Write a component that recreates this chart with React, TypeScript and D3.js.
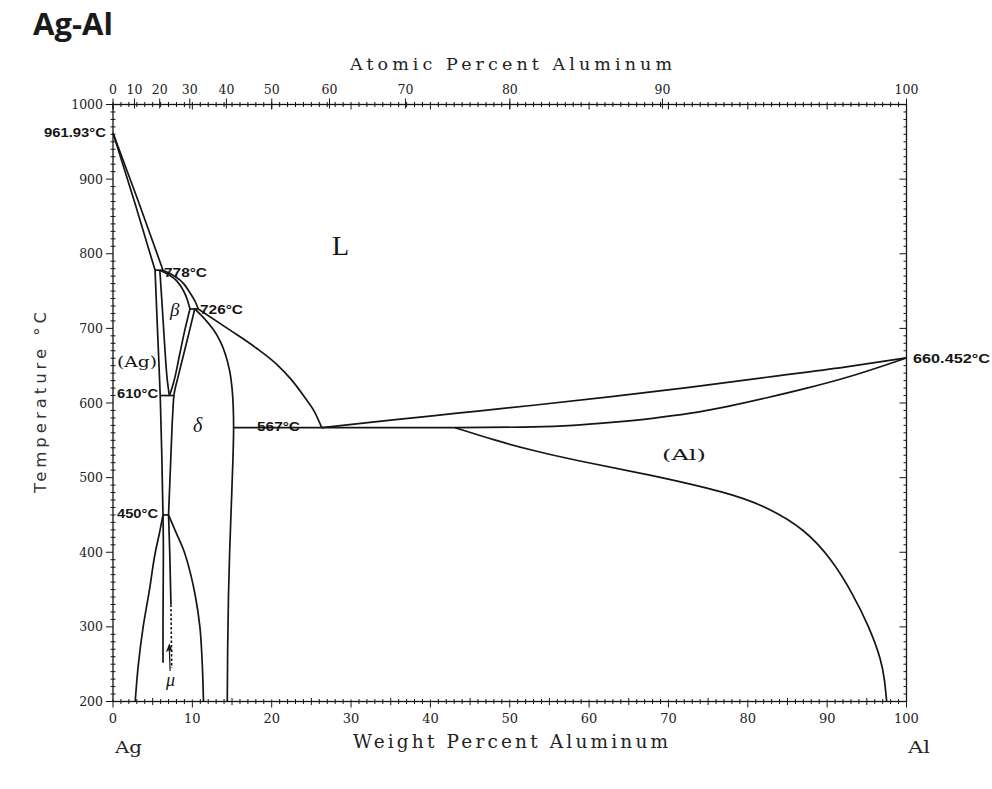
import React from "react";
import * as d3 from "d3";

type Pt = [number, number];

// Axis ticks
const tempTicks = d3.range(200, 1001, 100);
const tempMinor = d3.range(200, 1001, 10);
const weightTicks = d3.range(0, 101, 10);
const weightMinor = d3.range(0, 101, 1);
const atomicTicks = d3.range(0, 101, 10);

const M_AL = 26.9815;
const M_AG = 107.8682;

// Phase boundaries, [wt% Al, °C]
const agLiquidus: Pt[] = [[0, 961.93], [3.2, 870], [6.3, 778]];
const agSolidus: Pt[] = [[0, 961.93], [2.7, 870], [5.3, 778]];
const peritectic778: Pt[] = [[5.3, 778], [6.3, 778]];
const betaLiquidus: Pt[] = [[6.3, 778], [7.6, 771], [8.9, 760], [9.8, 746], [10.4, 735], [10.75, 726]];
const betaSolidus: Pt[] = [[5.9, 778], [7.0, 772], [8.0, 764], [8.8, 752], [9.35, 739], [9.7, 726]];
const peritectic726: Pt[] = [[9.7, 726], [10.75, 726]];
const agSolvusHigh: Pt[] = [[5.3, 778], [5.6, 700], [5.95, 610], [6.15, 530], [6.3, 450]];
const betaLeft: Pt[] = [[5.9, 778], [6.2, 730], [6.55, 671], [6.85, 630], [7.1, 610]];
const betaRight: Pt[] = [[9.7, 726], [9.1, 700], [8.4, 665], [7.7, 630], [7.25, 614], [7.1, 610]];
const deltaLeft: Pt[] = [[10.3, 726], [9.6, 695], [8.9, 665], [8.2, 635], [7.7, 612], [7.55, 590], [7.3, 530], [7.0, 450]];
const eutectoid610: Pt[] = [[5.95, 610], [7.6, 610]];
const peritectoid450: Pt[] = [[6.3, 450], [7.0, 450]];
const deltaRight: Pt[] = [
  [10.3, 726], [11.6, 712], [12.6, 699], [13.5, 683], [14.2, 664], [14.7, 643], [15.0, 620],
  [15.15, 595], [15.2, 567], [15.1, 520], [14.9, 460], [14.7, 400], [14.55, 340], [14.45, 270], [14.4, 200],
];
const deltaLiquidus: Pt[] = [
  [10.75, 726], [14.7, 698], [18, 674], [20.5, 653], [22.5, 631], [24.2, 607], [25.4, 588], [26.3, 567],
];
const eutectic567: Pt[] = [[15.2, 567], [43.1, 567]];
const alLiquidus: Pt[] = [
  [26.3, 567], [35, 577], [43.1, 586], [53, 597], [62.8, 608.5], [72.6, 621], [82.4, 634.5],
  [92.2, 648], [100, 660.452],
];
const alSolidus: Pt[] = [
  [43.1, 567], [53, 568], [58, 570], [62.8, 574], [68, 579.5], [72.6, 586], [77.5, 595.5],
  [82.4, 607], [87.3, 619.5], [92.2, 633.5], [97.1, 650], [100, 660.452],
];
const alSolvus: Pt[] = [
  [43.1, 567], [48.1, 550], [53, 536], [57.9, 524], [67.6, 504], [77.5, 480], [82.4, 461],
  [87.3, 430], [90.6, 390], [93.2, 345], [95.3, 300], [96.85, 255], [97.25, 228], [97.5, 200],
];
const agSolvusLow: Pt[] = [[6.3, 450], [5.9, 428], [5.3, 398], [4.6, 350], [3.8, 300], [3.2, 250], [2.8, 200]];
const muLeft: Pt[] = [[6.3, 450], [6.35, 400], [6.3, 300], [6.3, 252]];
const muRight: Pt[] = [[7.0, 450], [7.15, 400], [7.3, 330]];
const muRightDashed: Pt[] = [[7.3, 330], [7.4, 245]];
const deltaLow: Pt[] = [[7.0, 450], [7.8, 430], [8.9, 403], [9.8, 370], [10.4, 340], [10.95, 300], [11.25, 250], [11.4, 200]];
const muPointer: Pt[] = [[7.2, 241], [7.1, 278]];

// Curves that run mostly left-to-right
const flatCurves: Pt[][] = [
  peritectic778, betaLiquidus, betaSolidus, peritectic726, eutectoid610, peritectoid450,
  deltaLiquidus, eutectic567, alLiquidus, alSolidus,
];
// Curves that run mostly top-to-bottom
const steepCurves: Pt[][] = [
  agLiquidus, agSolidus, agSolvusHigh, betaLeft, betaRight, deltaLeft, deltaRight,
  agSolvusLow, muLeft, muRight, deltaLow,
];
// Curves that turn from flat to steep
const bentCurves: Pt[][] = [alSolvus];

// Invariant temperatures
const meltAg = 961.93;
const meltAl = 660.452;
const invariantLabels = ["961.93°C", "778°C", "726°C", "610°C", "567°C", "450°C", "660.452°C"];

const atomicToWeight = (a: number) => (100 * a * M_AL) / (a * M_AL + (100 - a) * M_AG);

const x = d3.scaleLinear().domain([0, 100]).range([113, 906.5]);
const y = d3.scaleLinear().domain([200, 1000]).range([701.5, 104.5]);
const makeLine = (curve: d3.CurveFactory) =>
  d3
    .line<Pt>()
    .x((d) => x(d[0]))
    .y((d) => y(d[1]))
    .curve(curve);
const lineX = makeLine(d3.curveMonotoneX);
const lineY = makeLine(d3.curveMonotoneY);
const lineBent = makeLine(d3.curveBasis);
const byX = (c: Pt[]) => [...c].sort((a, b) => a[0] - b[0]);
const byY = (c: Pt[]) => [...c].sort((a, b) => b[1] - a[1]);

const INK = "#151515";
const serif = "'DejaVu Serif', 'Liberation Serif', serif";
const tickFont = "'DejaVu Serif', serif";
const sans = "'Liberation Sans', Arial, sans-serif";

export default function App() {
  const x0 = x(0), x1 = x(100), yTop = y(1000), yBot = y(200);
  const tempLabel = (text: string, px: number, T: number, len: number) => (
    <text x={px} y={y(T) + 4} fontFamily={sans} fontWeight="bold" fontSize={12.5} textLength={len} lengthAdjust="spacingAndGlyphs" fill={INK}>
      {text}
    </text>
  );
  const ax = muPointer.map((d) => [x(d[0]), y(d[1])]);
  return (
    <svg width={992} height={789} style={{ position: "absolute", left: 0, top: 0, background: "#fff" }}>
      <rect width={992} height={789} fill="#fff" />
      {/* Title */}
      <text x={33} y={35} fontFamily="'Open Sans', 'Noto Sans', sans-serif" fontWeight="bold" fontSize={31} fill="#1a1a1a" textLength={80} lengthAdjust="spacingAndGlyphs">
        Ag-Al
      </text>

      {/* Frame */}
      <rect x={x0} y={yTop} width={x1 - x0} height={yBot - yTop} fill="none" stroke={INK} strokeWidth={1.3} />

      {/* Left & right temperature ticks */}
      {tempMinor.map((t) => {
        const major = t % 100 === 0;
        return (
          <g key={"t" + t} stroke={INK} strokeWidth={1}>
            <line x1={major ? x0 - 7 : x0 - 2.5} x2={major ? x0 : x0 + 2.5} y1={y(t)} y2={y(t)} />
            <line x1={major ? x1 - 7 : x1 - 3} x2={x1} y1={y(t)} y2={y(t)} />
          </g>
        );
      })}
      {tempTicks.map((t) => (
        <text key={"tl" + t} x={x0 - 10} y={y(t)} dy="0.36em" textAnchor="end" fontFamily={tickFont} fontSize={12.5} fill="#222">
          {t}
        </text>
      ))}

      {/* Bottom & top weight ticks */}
      {weightMinor.map((w) => {
        const major = w % 10 === 0;
        const mid = w % 5 === 0;
        return (
          <g key={"w" + w} stroke={INK} strokeWidth={1}>
            <line x1={x(w)} x2={x(w)} y1={major ? yBot - 2 : yBot - (mid ? 3.5 : 2.5)} y2={major ? yBot + 6 : yBot + (mid ? 3.5 : 2.5)} />
            <line x1={x(w)} x2={x(w)} y1={yTop - 2.5} y2={yTop + (major ? 5 : 2.5)} />
          </g>
        );
      })}
      {weightTicks.map((w) => (
        <text key={"wl" + w} x={x(w)} y={723} textAnchor="middle" fontFamily={tickFont} fontSize={13} fill="#222">
          {w}
        </text>
      ))}
      {atomicTicks.map((a) => (
        <g key={"a" + a}>
          <line x1={x(atomicToWeight(a))} x2={x(atomicToWeight(a))} y1={yTop - 6} y2={yTop + 4} stroke={INK} strokeWidth={1} />
          <text x={x(atomicToWeight(a))} y={94} textAnchor="middle" fontFamily={tickFont} fontSize={12.5} fill="#222">
            {a}
          </text>
        </g>
      ))}

      {/* Axis titles */}
      <text x={350} y={70} fontFamily={serif} fontSize={17.5} fill="#222" textLength={322} lengthAdjust="spacing">
        Atomic Percent Aluminum
      </text>
      <text x={353} y={748} fontFamily={serif} fontSize={18.5} fill="#222" textLength={315} lengthAdjust="spacing">
        Weight Percent Aluminum
      </text>
      <text transform="translate(46,493) rotate(-90)" fontFamily="'DejaVu Sans', sans-serif" fontSize={16.5} fill="#333" textLength={181} lengthAdjust="spacing">
        Temperature °C
      </text>
      <text x={115} y={753} fontFamily={serif} fontSize={17} fill="#222" textLength={27} lengthAdjust="spacingAndGlyphs">Ag</text>
      <text x={908} y={753} fontFamily={serif} fontSize={17} fill="#222" textLength={22} lengthAdjust="spacingAndGlyphs">Al</text>

      {/* Phase boundaries */}
      {flatCurves.map((c, i) => (
        <path key={"f" + i} d={lineX(byX(c)) || ""} fill="none" stroke={INK} strokeWidth={1.7} strokeLinejoin="round" />
      ))}
      {steepCurves.map((c, i) => (
        <path key={"s" + i} d={lineY(byY(c)) || ""} fill="none" stroke={INK} strokeWidth={1.7} strokeLinejoin="round" />
      ))}
      {bentCurves.map((c, i) => (
        <path key={"b" + i} d={lineBent(c) || ""} fill="none" stroke={INK} strokeWidth={1.7} strokeLinejoin="round" />
      ))}
      <path d={lineY(byY(muRightDashed)) || ""} fill="none" stroke={INK} strokeWidth={1.6} strokeDasharray="2.5 2" />
      <line x1={ax[0][0]} y1={ax[0][1]} x2={ax[1][0]} y2={ax[1][1] + 5} stroke={INK} strokeWidth={1.2} />
      <path d={`M${ax[1][0]},${ax[1][1]} l-3.5,9 l3.8,-2.5 l3.2,2.8 z`} fill={INK} />

      {/* Invariant temperatures */}
      {tempLabel(invariantLabels[0], 44, meltAg, 62)}
      {tempLabel(invariantLabels[1], 164, 778 - 4, 43)}
      {tempLabel(invariantLabels[2], 200, 726 - 2, 43)}
      {tempLabel(invariantLabels[3], 117, 610 + 1.5, 41)}
      {tempLabel(invariantLabels[4], 257, 567 + 1.5, 43)}
      {tempLabel(invariantLabels[5], 117, 450 + 1, 41)}
      {tempLabel(invariantLabels[6], 913, meltAl - 1, 77)}

      {/* Phase fields */}
      <text x={332} y={255} fontFamily="'Liberation Serif', serif" fontSize={28} fill={INK}>L</text>
      <text x={170} y={316} fontFamily="'Liberation Serif', serif" fontStyle="italic" fontSize={19} fill={INK}>β</text>
      <text x={193} y={432} fontFamily="'Liberation Serif', serif" fontStyle="italic" fontSize={20} fill={INK}>δ</text>
      <text x={166} y={686} fontFamily="'Liberation Serif', serif" fontStyle="italic" fontSize={18} fill={INK}>μ</text>
      <text x={117} y={367} fontFamily={serif} fontSize={15} fill={INK} textLength={40} lengthAdjust="spacingAndGlyphs">(Ag)</text>
      <text x={662} y={460} fontFamily={serif} fontSize={15.5} fill={INK} textLength={44} lengthAdjust="spacingAndGlyphs">(Al)</text>
    </svg>
  );
}
